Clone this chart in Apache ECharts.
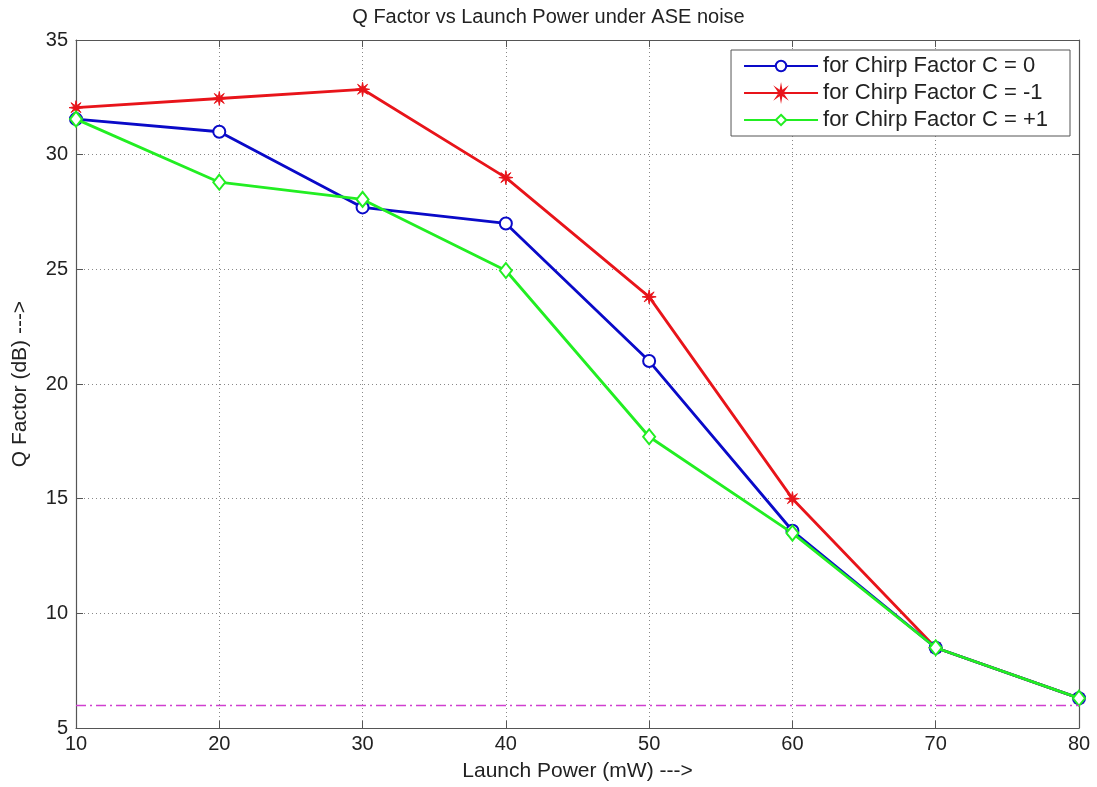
<!DOCTYPE html>
<html>
<head>
<meta charset="utf-8">
<script src="https://cdn.jsdelivr.net/npm/echarts@6/dist/echarts.min.js"></script>
<style>
	html, body {margin: 0; padding: 0; background: #fff;}
	#chart {width: 1097px; height: 787px;}
</style>
</head>
<body>
<div id="chart"></div>
<script>
var launchPower = [10, 20, 30, 40, 50, 60, 70, 80];
var qChirp0 = [31.55, 31.0, 27.7, 27.0, 21.0, 13.6, 8.5, 6.3];
var qChirpMinus1 = [32.05, 32.45, 32.85, 29.0, 23.8, 15.0, 8.5, 6.3];
var qChirpPlus1 = [31.55, 28.8, 28.05, 24.95, 17.7, 13.5, 8.5, 6.3];
var threshold = 6;

var seriesNames = ['for Chirp Factor C = 0', 'for Chirp Factor C = -1', 'for Chirp Factor C = +1'];

// 8 pointed star, close to matlab's '*' marker
var starPath = 'path://M5,0L1.48,0.61L3.54,3.54L0.61,1.48L0,5L-0.61,1.48L-3.54,3.54L-1.48,0.61L-5,0L-1.48,-0.61L-3.54,-3.54L-0.61,-1.48L0,-5L0.61,-1.48L3.54,-3.54L1.48,-0.61Z';

function pairs(ys){
	var out = [];
	for (var i = 0; i < launchPower.length; i++) out.push([launchPower[i], ys[i]]);
	return out;
}

var font = 'Liberation Sans, Arial, sans-serif';
var gridLine = {show: true, lineStyle: {color: '#888', type: [1, 3], width: 1}};
var frame = {show: true, lineStyle: {color: '#555', width: 1.2}};
var tick = {show: true, inside: true, length: 7, lineStyle: {color: '#555'}};

var chart = echarts.init(document.getElementById('chart'));
chart.setOption({
	backgroundColor: '#fff',
	animation: false,
	textStyle: {fontFamily: font},
	title: {
		text: 'Q Factor vs Launch Power under ASE noise',
		left: 'center',
		top: 2,
		textStyle: {fontSize: 20, fontWeight: 'normal', color: '#222', fontFamily: font}
	},
	legend: {
		orient: 'vertical',
		right: 27,
		top: 50,
		padding: [5, 22, 5, 12],
		itemGap: 5,
		itemWidth: 74,
		itemHeight: 13,
		borderColor: '#555',
		borderWidth: 1,
		borderRadius: 0,
		backgroundColor: '#fff',
		textStyle: {fontSize: 22, color: '#222', fontFamily: font, lineHeight: 22},
		data: seriesNames
	},
	grid: {left: 76, right: 18, top: 40, bottom: 57},
	xAxis: [{
		type: 'value',
		min: 10, max: 80, interval: 10,
		name: 'Launch Power (mW) --->',
		nameLocation: 'middle',
		nameGap: 33,
		nameTextStyle: {fontSize: 21, color: '#222'},
		axisLine: frame,
		axisTick: tick,
		axisLabel: {fontSize: 20, color: '#222', margin: 6},
		splitLine: gridLine
	}, {
		type: 'value', position: 'top',
		min: 10, max: 80, interval: 10,
		axisLine: frame,
		axisTick: tick,
		axisLabel: {show: false},
		splitLine: {show: false}
	}],
	yAxis: [{
		type: 'value',
		min: 5, max: 35, interval: 5,
		name: 'Q Factor (dB) --->',
		nameLocation: 'middle',
		nameGap: 45,
		nameTextStyle: {fontSize: 21, color: '#222'},
		axisLine: frame,
		axisTick: tick,
		axisLabel: {fontSize: 20, color: '#222', margin: 8},
		splitLine: gridLine
	}, {
		type: 'value', position: 'right',
		min: 5, max: 35, interval: 5,
		axisLine: frame,
		axisTick: tick,
		axisLabel: {show: false},
		splitLine: {show: false}
	}],
	series: [{
		name: seriesNames[0],
		type: 'line',
		data: pairs(qChirp0),
		symbol: 'emptyCircle',
		symbolSize: 12,
		color: '#0a0ac8',
		lineStyle: {width: 2.8, color: '#0a0ac8'},
		itemStyle: {color: '#0a0ac8', borderWidth: 2},
		z: 3,
		markLine: {
			silent: true,
			symbol: 'none',
			label: {show: false},
			lineStyle: {color: '#d040d0', width: 1.3, type: [10, 4, 2, 4], opacity: 1},
			emphasis: {disabled: true},
			data: [{yAxis: threshold}]
		}
	}, {
		name: seriesNames[1],
		type: 'line',
		data: pairs(qChirpMinus1),
		symbol: starPath,
		symbolSize: 14,
		color: '#e8141a',
		lineStyle: {width: 2.8, color: '#e8141a'},
		itemStyle: {color: '#e8141a', borderColor: '#e8141a', borderWidth: 1},
		z: 2
	}, {
		name: seriesNames[2],
		type: 'line',
		data: pairs(qChirpPlus1),
		symbol: 'emptyDiamond',
		symbolSize: [12, 15],
		color: '#22ee22',
		lineStyle: {width: 2.8, color: '#22ee22'},
		itemStyle: {color: '#22ee22', borderWidth: 2},
		z: 4
	}]
});
</script>
</body>
</html>
